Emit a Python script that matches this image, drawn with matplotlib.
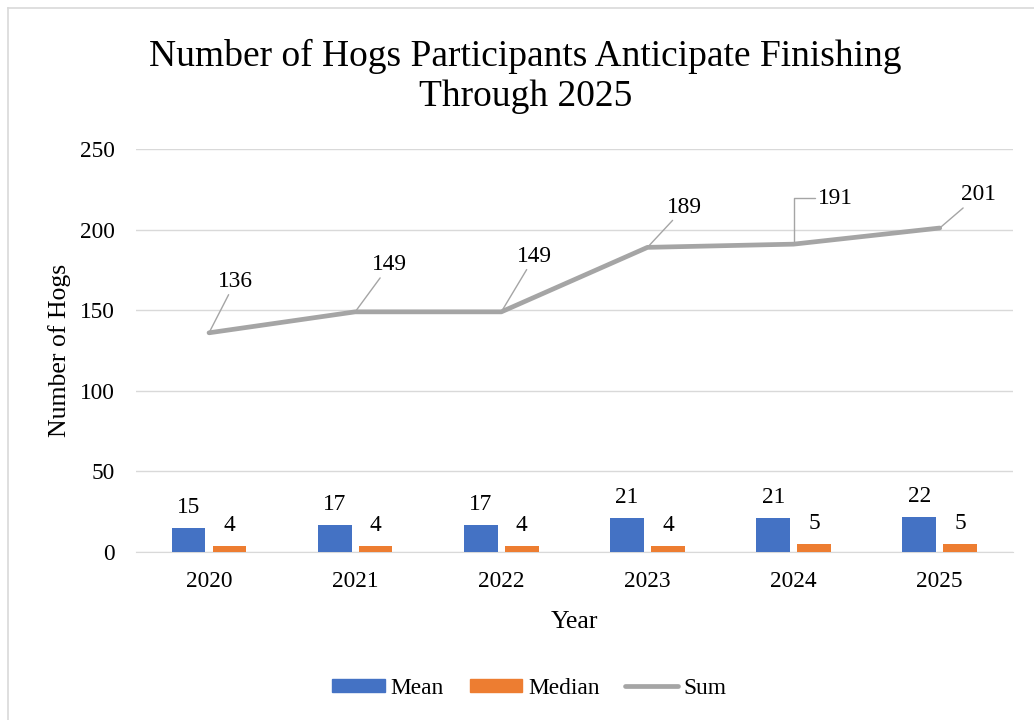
import numpy as np
import matplotlib.pyplot as plt
from matplotlib.lines import Line2D
from matplotlib.patches import Patch

plt.rcParams['font.family'] = ['Liberation Serif', 'DejaVu Serif']

years = ['2020', '2021', '2022', '2023', '2024', '2025']
mean_vals = [15, 17, 17, 21, 21, 22]
median_vals = [4, 4, 4, 4, 5, 5]
sum_vals = [136, 149, 149, 189, 191, 201]

# label offsets (points) for the Sum data labels
sum_offsets = [(19, 37), (25, 34), (24, 40), (27, 29), (30, 33), (28, 24)]

BLUE = '#4472C4'
ORANGE = '#ED7D31'
GREY = '#A5A5A5'
FS = 16.8

fig = plt.figure(figsize=(10.34, 7.2), dpi=100)
ax = fig.add_axes([0.1315, 0.2333, 0.848, 0.5597])

x = np.arange(len(years))
w = 0.23
b1 = ax.bar(x - 0.14, mean_vals, w, color=BLUE, zorder=3)
b2 = ax.bar(x + 0.14, median_vals, w, color=ORANGE, zorder=3)
ax.bar_label(b1, padding=7, fontsize=FS)
ax.bar_label(b2, padding=7, fontsize=FS)

ax.plot(x, sum_vals, color=GREY, lw=3.4, zorder=4, solid_capstyle='round')
for i, v in enumerate(sum_vals):
    cs = 'arc3'
    if i == 4:
        cs = 'angle,angleA=180,angleB=90,rad=0'
    ax.annotate(str(v), xy=(x[i], v), xytext=sum_offsets[i], textcoords='offset points',
                ha='center', va='center', fontsize=FS,
                arrowprops=dict(arrowstyle='-', color=GREY, lw=1, shrinkA=0, shrinkB=0,
                                connectionstyle=cs))

ax.set_xlim(-0.5, 5.5)
ax.set_ylim(0, 250)
ax.set_yticks(range(0, 251, 50))
ax.set_xticks(x)
ax.set_xticklabels(years)
ax.tick_params(length=0, labelsize=FS, pad=14)
ax.tick_params(axis='y', pad=15)
ax.grid(axis='y', color='#D9D9D9', lw=1, zorder=0)
for s in ['top', 'right', 'left']:
    ax.spines[s].set_visible(False)
ax.spines['bottom'].set_color('#D9D9D9')
ax.set_xlabel('Year', fontsize=18.5, labelpad=13)
ax.set_ylabel('Number of Hogs', fontsize=18.5, labelpad=7)

fig.text(0.508, 0.894, 'Number of Hogs Participants Anticipate Finishing\nThrough 2025',
         ha='center', va='center', fontsize=27, linespacing=1.22)

handles = [Patch(color=BLUE), Patch(color=ORANGE),
           Line2D([], [], color=GREY, lw=3.4, solid_capstyle='round')]
fig.legend(handles, ['Mean', 'Median', 'Sum'], loc='center', bbox_to_anchor=(0.512, 0.044),
           ncol=3, frameon=False, fontsize=FS, handlelength=2.25, handleheight=0.5,
           columnspacing=1.1, handletextpad=0.25)

# chart border
fig.add_artist(Line2D([0.008, 0.008], [0, 0.989], color='#D9D9D9', lw=1.2))
fig.add_artist(Line2D([0.008, 1.0], [0.989, 0.989], color='#D9D9D9', lw=1.2))

fig.savefig('out.png', dpi=100)
